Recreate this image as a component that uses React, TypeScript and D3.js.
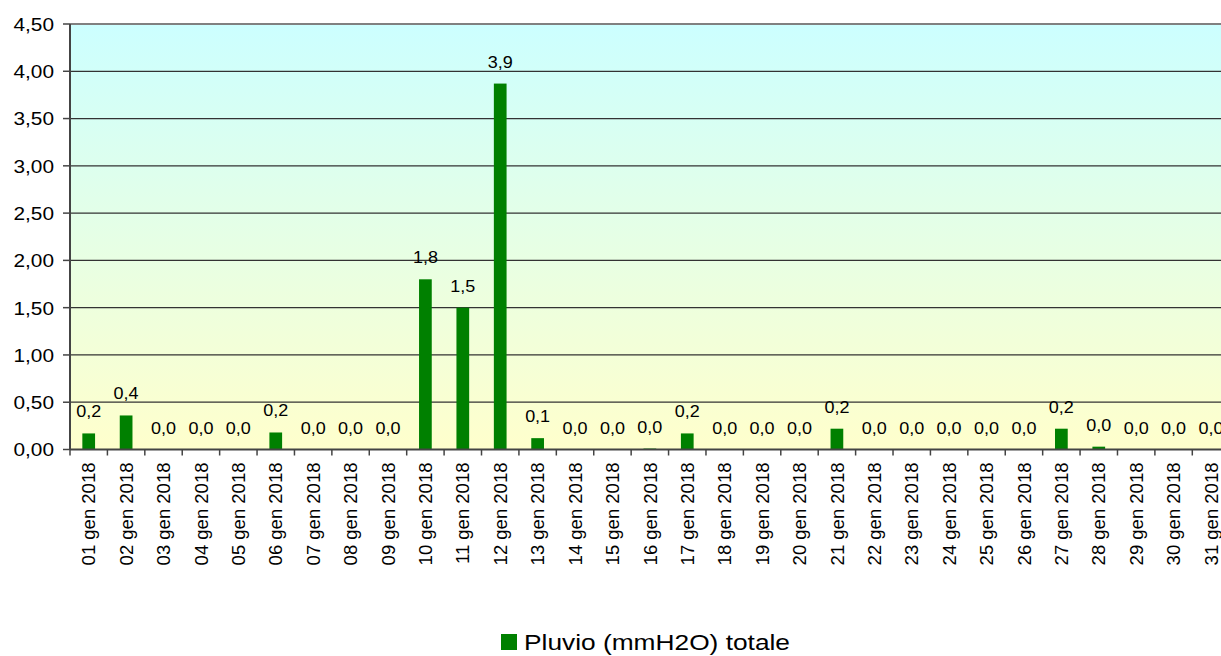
import React from "react";
import * as d3 from "d3";

const days: string[] = Array.from({ length: 31 }, (_, i) => `${String(i + 1).padStart(2, "0")} gen 2018`);
const values: number[] = [
  0.17, 0.36, 0, 0, 0, 0.18, 0, 0, 0, 1.8, 1.5, 3.87, 0.12, 0, 0, 0.01,
  0.17, 0, 0, 0, 0.22, 0, 0, 0, 0, 0, 0.22, 0.03, 0, 0, 0,
];
const yTicks: number[] = [0, 0.5, 1, 1.5, 2, 2.5, 3, 3.5, 4, 4.5];
const seriesName = "Pluvio (mmH2O) totale";

const locale = d3.formatLocale({ decimal: ",", thousands: ".", grouping: [3], currency: ["", "€"] });
const fmtTick = locale.format(".2f");
const fmtLabel = locale.format(".1f");

export default function App() {
  const W = 1221, H = 656;
  const left = 70, top = 24, bottom = 449.5;
  const right = left + 31 * 37.41;
  const x = d3.scaleBand<string>().domain(days).range([left, right]).paddingInner(0).paddingOuter(0);
  const y = d3.scaleLinear().domain([0, 4.5]).range([bottom, top]);
  const bw = x.bandwidth() * 0.34;
  const font = "Arial, 'Liberation Sans', Helvetica, sans-serif";

  return (
    <svg width={W} height={H} style={{ position: "absolute", left: 0, top: 0 }} fontFamily={font}>
      <defs>
        <linearGradient id="bg" x1="0" y1="0" x2="0" y2="1">
          <stop offset="0%" stopColor="#CCFFFF" />
          <stop offset="100%" stopColor="#FFFFCC" />
        </linearGradient>
      </defs>
      <rect x={0} y={0} width={W} height={H} fill="#fff" />
      <rect x={left} y={top} width={right - left} height={bottom - top} fill="url(#bg)" />
      {yTicks.map((t) => (
        <g key={t}>
          {t > 0 && t < 4.5 && (
            <line x1={left} x2={right} y1={y(t)} y2={y(t)} stroke="#333" strokeWidth={1.2} />
          )}
          <line x1={left - 7} x2={left} y1={y(t)} y2={y(t)} stroke="#444" strokeWidth={1.5} />
          <text x={54} y={y(t)} dy="0.36em" textAnchor="end" fontSize={19} fill="#000"
            textLength={40.5} lengthAdjust="spacingAndGlyphs">
            {fmtTick(t)}
          </text>
        </g>
      ))}
      <line x1={left} x2={right} y1={top} y2={top} stroke="#808080" strokeWidth={2} />
      {values.map((v, i) => {
        const cx = (x(days[i]) as number) + x.bandwidth() / 2;
        return (
          <g key={i}>
            <rect x={cx - bw / 2} y={y(v)} width={bw} height={bottom - y(v)} fill="#008000" />
            <text x={cx} y={y(v) - 16} textAnchor="middle" fontSize={17} fill="#000"
              textLength={25} lengthAdjust="spacingAndGlyphs">
              {fmtLabel(v)}
            </text>
          </g>
        );
      })}
      <line x1={left} x2={left} y1={top} y2={bottom} stroke="#444" strokeWidth={2} />
      <line x1={left} x2={right} y1={bottom} y2={bottom} stroke="#444" strokeWidth={2} />
      {days.map((d, i) => (
        <line key={"t" + i} x1={x(d) as number} x2={x(d) as number} y1={bottom} y2={bottom + 6} stroke="#444" strokeWidth={1.5} />
      ))}
      {days.map((d, i) => {
        const cx = (x(d) as number) + x.bandwidth() / 2;
        return (
          <text key={"l" + i} transform={`translate(${cx},${bottom + 13}) rotate(-90)`} dy="0.36em" textAnchor="end" fontSize={18.5} fill="#000">
            {d}
          </text>
        );
      })}
      <rect x={501} y={634} width={16} height={16} fill="#008000" />
      <text x={524} y={650} fontSize={22.5} fill="#000" textLength={266} lengthAdjust="spacingAndGlyphs">{seriesName}</text>
    </svg>
  );
}
